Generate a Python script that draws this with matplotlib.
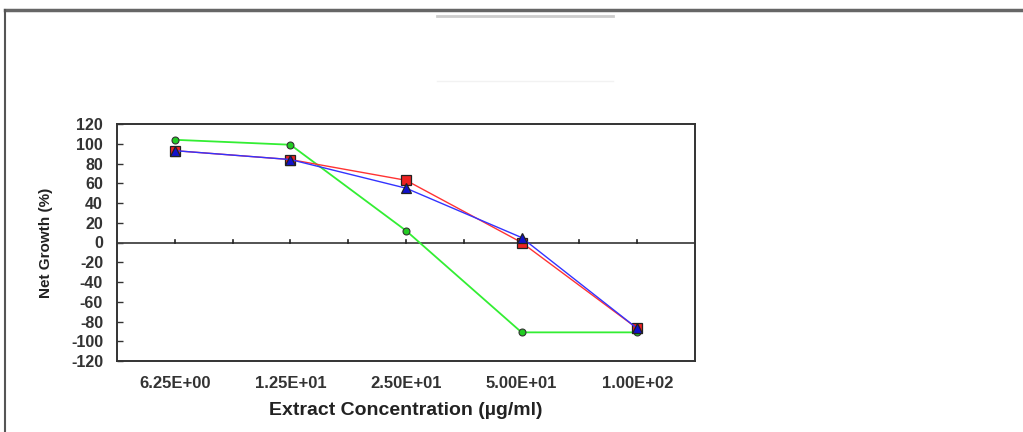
import matplotlib.pyplot as plt
import numpy as np
from matplotlib.lines import Line2D

# concentrations (ug/ml) and net growth (%) for the three series
conc_labels = ['6.25E+00', '1.25E+01', '2.50E+01', '5.00E+01', '1.00E+02']
growth_red = [93, 84, 63, 0, -87]
growth_blue = [93, 84, 55, 5, -87]
growth_green = [104, 99, 12, -91, -91]
yticks = list(range(-120, 121, 20))

plt.rcParams['font.family'] = ['Liberation Sans', 'DejaVu Sans']
plt.rcParams['font.weight'] = 'bold'
plt.rcParams['axes.unicode_minus'] = False

fig = plt.figure(figsize=(10.23, 4.32), dpi=100, facecolor='w')
ax = fig.add_axes([117/1023, 1 - 361/432, 578/1023, 237/432])

x = np.arange(len(conc_labels)) + 0.5

ax.plot(x, growth_green, color='#33ee33', lw=1.3, marker='o', ms=5,
        mfc='#22cc22', mec='#333333', mew=0.8, zorder=3)
ax.plot(x, growth_red, color='#ff3333', lw=1.0, marker='s', ms=6.5,
        mfc='#ee2222', mec='#222222', mew=0.9, zorder=4)
ax.plot(x, growth_blue, color='#3333ff', lw=1.0, marker='^', ms=6.5,
        mfc='#1111cc', mec='#222222', mew=0.9, zorder=5)

# zero line with small ticks at every half category
ax.axhline(0, color='#444444', lw=1.3, zorder=2)
for xt in np.arange(0.5, 5, 0.5):
    ax.plot([xt, xt], [0, 2.2], color='#222222', lw=1.2, zorder=2)

ax.set_xlim(0, 5)
ax.set_ylim(-120, 120)
ax.set_xticks(x)
ax.set_xticklabels(conc_labels)
ax.set_yticks(yticks)
ax.tick_params(axis='x', length=0, pad=11, labelsize=12, colors='#333333')
ax.tick_params(axis='y', direction='in', length=4, width=1, pad=10,
               labelsize=11.5, colors='#333333')
for lab in ax.get_xticklabels() + ax.get_yticklabels():
    lab.set_fontweight('bold')
for s in ax.spines.values():
    s.set_linewidth(1.4)
    s.set_color('#333333')

ax.set_xlabel('Extract Concentration (µg/ml)', fontsize=14, fontweight='bold',
              labelpad=8, color='#222222')
ax.set_ylabel('Net Growth (%)', fontsize=11, fontweight='bold',
              labelpad=13, color='#222222')

# outer frame and faint lines at the top
fig.add_artist(Line2D([5/1023, 1], [1 - 10/432, 1 - 10/432], color='#666666', lw=2.5))
fig.add_artist(Line2D([5/1023, 5/1023], [0, 1 - 10/432], color='#555555', lw=1.5))
fig.add_artist(Line2D([437/1023, 613/1023], [1 - 16/432, 1 - 16/432], color='#cccccc', lw=2))
fig.add_artist(Line2D([437/1023, 613/1023], [1 - 81/432, 1 - 81/432], color='#f2f2f2', lw=1))

fig.savefig('out.png', dpi=100, facecolor='w')
